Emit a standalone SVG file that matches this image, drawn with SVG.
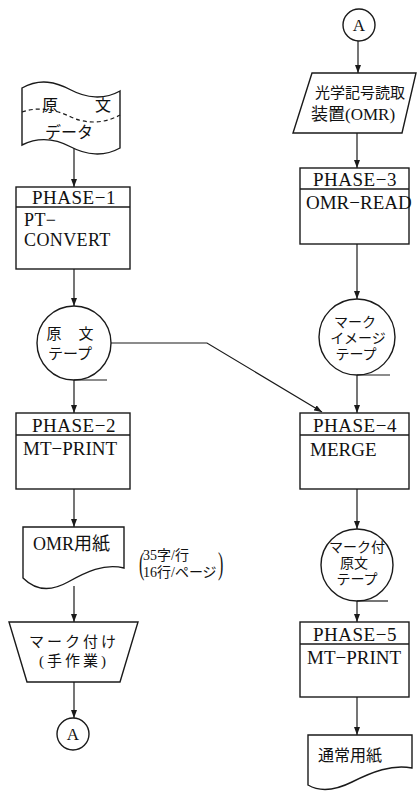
<svg xmlns="http://www.w3.org/2000/svg" width="417" height="792" viewBox="0 0 417 792">
<style>
.ln{fill:none;stroke:#1a1a1a;stroke-width:1.2}
.sh{fill:#fff;stroke:#1a1a1a;stroke-width:1.4}
.dv{stroke:#1a1a1a;stroke-width:1.4}
.hd{font-family:"Liberation Serif","Noto Sans CJK JP",serif;font-size:19px;fill:#111;text-anchor:middle;letter-spacing:0.5px}
.bd{font-family:"Liberation Serif","Noto Sans CJK JP",serif;font-size:19px;fill:#111}
.jp{font-family:"Noto Sans CJK JP",sans-serif;fill:#111;text-anchor:middle}
.tj{font-family:"Liberation Serif","Noto Sans CJK JP",sans-serif;font-size:14px;fill:#111;text-anchor:middle}
.mx{font-family:"Liberation Serif","Noto Sans CJK JP",serif;fill:#111}
.cn{font-family:"Liberation Serif",serif;font-size:17px;fill:#111;text-anchor:middle}
</style>
<defs>
<marker id="arr" markerWidth="8" markerHeight="6" refX="8" refY="3" orient="auto" markerUnits="userSpaceOnUse">
<path d="M0,0 L8,3 L0,6 Z" fill="#1a1a1a"/>
</marker>
</defs>

<!-- connectors -->
<g id="connectors" class="ln" marker-end="url(#arr)">
<path d="M74,148 V187"/>
<path d="M74,269 V306"/>
<path d="M74,380 V413"/>
<path d="M74,489 V527"/>
<path d="M74,586 V622"/>
<path d="M74,682 V718"/>
<path d="M358,41 V73"/>
<path d="M357,133 V168"/>
<path d="M357,244 V299"/>
<path d="M357,375 V413"/>
<path d="M357,489 V529"/>
<path d="M357,601 V622"/>
<path d="M357,697 V735"/>
<path d="M111,343 H207 L322,412"/>
</g>

<!-- source data (punched tape) -->
<g id="src-data">
<path class="sh" d="M22,88 C40,78 56,82 71,90 C86,98 104,100 120,91 V148 C104,157 86,155 71,147 C56,139 40,136 22,145 Z"/>
<path class="ln" stroke-dasharray="4,3" d="M22,112 C40,106 56,110 71,117 C86,124 104,124 120,115"/>
<text class="jp" x="50" y="111" style="font-size:16px">原</text>
<text class="jp" x="103" y="111" style="font-size:16px">文</text>
<text class="jp" x="69" y="138" style="font-size:16px">データ</text>
</g>

<!-- PHASE-1 -->
<g id="phase1">
<rect class="sh" x="16" y="187" width="114" height="82"/>
<line class="dv" x1="16" y1="207" x2="130" y2="207"/>
<text class="hd" x="74" y="204">PHASE−1</text>
<text class="bd" style="font-size:18px;letter-spacing:0.4px"><tspan x="24" y="226">PT−</tspan><tspan x="24" y="246">CONVERT</tspan></text>
</g>

<!-- source tape -->
<g id="src-tape">
<circle class="sh" cx="74" cy="343" r="37"/>
<path class="ln" d="M74,380 H107"/>
<text class="tj" style="font-size:15px"><tspan x="54" y="339">原</tspan><tspan x="86" y="339">文</tspan><tspan x="70" y="359">テープ</tspan></text>
</g>

<!-- PHASE-2 -->
<g id="phase2">
<rect class="sh" x="16" y="413" width="114" height="76"/>
<line class="dv" x1="16" y1="435" x2="130" y2="435"/>
<text class="hd" x="74" y="432">PHASE−2</text>
<text class="bd" x="23" y="455">MT−PRINT</text>
</g>

<!-- OMR sheet -->
<g id="omr-sheet">
<path class="sh" d="M23,527 H124 V568 C104,563 86,572 68,582 C52,591 36,591 23,578 Z"/>
<text class="mx" x="33" y="550" style="font-size:18px">OMR用紙</text>
</g>

<!-- sheet format note -->
<g id="note">
<text class="mx" x="139" y="574" style="font-size:32px" transform="translate(139,563) scale(0.5,1) translate(-139,-563)">(</text>
<text class="mx" style="font-size:14px"><tspan x="143" y="560">35字/行</tspan><tspan x="143" y="577">16行/ページ</tspan></text>
<text class="mx" x="218" y="574" style="font-size:32px" transform="translate(218,563) scale(0.5,1) translate(-218,-563)">)</text>
</g>

<!-- manual marking -->
<g id="marking">
<path class="sh" d="M9,622 H138 L120,682 H27 Z"/>
<text class="tj" style="font-size:15px;letter-spacing:3px"><tspan x="74" y="647">マーク付け</tspan><tspan x="74" y="666">(手作業)</tspan></text>
</g>

<!-- connector A (out) -->
<g id="conn-a-out">
<circle class="sh" cx="73" cy="734" r="16"/>
<text class="cn" x="73" y="740">A</text>
</g>

<!-- connector A (in) -->
<g id="conn-a-in">
<circle class="sh" cx="359" cy="25" r="16"/>
<text class="cn" x="359" y="31">A</text>
</g>

<!-- OMR reader -->
<g id="omr-reader">
<path class="sh" d="M312,73 H416 L402,133 H293 Z"/>
<text class="mx" x="315" y="98" style="font-size:15px">光学記号読取</text>
<text class="mx" x="311" y="120" style="font-size:17px">装置(OMR)</text>
</g>

<!-- PHASE-3 -->
<g id="phase3">
<rect class="sh" x="300" y="168" width="109" height="76"/>
<line class="dv" x1="300" y1="189" x2="409" y2="189"/>
<text class="hd" x="355" y="186">PHASE−3</text>
<text class="bd" x="306" y="209">OMR−READ</text>
</g>

<!-- mark image tape -->
<g id="mark-tape">
<circle class="sh" cx="357" cy="337" r="38"/>
<path class="ln" d="M357,375 H390"/>
<text class="tj"><tspan x="355" y="327">マーク</tspan><tspan x="358" y="343">イメージ</tspan><tspan x="356" y="359">テープ</tspan></text>
</g>

<!-- PHASE-4 -->
<g id="phase4">
<rect class="sh" x="300" y="413" width="109" height="76"/>
<line class="dv" x1="300" y1="435" x2="409" y2="435"/>
<text class="hd" x="355" y="432">PHASE−4</text>
<text class="bd" x="310" y="456">MERGE</text>
</g>

<!-- marked source tape -->
<g id="marked-tape">
<circle class="sh" cx="357" cy="565" r="36"/>
<path class="ln" d="M357,601 H388"/>
<text class="tj"><tspan x="357" y="552">マーク付</tspan><tspan x="354" y="568">原文</tspan><tspan x="357" y="584">テープ</tspan></text>
</g>

<!-- PHASE-5 -->
<g id="phase5">
<rect class="sh" x="300" y="622" width="109" height="75"/>
<line class="dv" x1="300" y1="644" x2="409" y2="644"/>
<text class="hd" x="355" y="641">PHASE−5</text>
<text class="bd" x="307" y="664">MT−PRINT</text>
</g>

<!-- plain paper -->
<g id="plain-paper">
<path class="sh" d="M308,735 H412 V768 C392,764 372,772 352,782 C336,790 320,792 308,785 Z"/>
<text class="mx" x="350" y="761" style="font-size:16px" text-anchor="middle">通常用紙</text>
</g>
</svg>
